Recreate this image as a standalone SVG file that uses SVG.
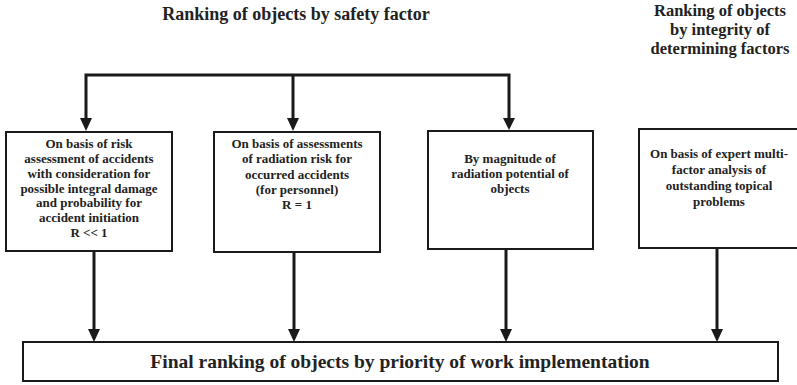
<svg xmlns="http://www.w3.org/2000/svg" width="797" height="385" viewBox="0 0 797 385">
  <style>
    .box { fill: #fff; stroke: #1a1a1a; stroke-width: 2; }
    .t { font-family: 'Liberation Serif', 'Times New Roman', serif; font-weight: bold; fill: #222; text-anchor: middle; }
    .s { font-size: 13px; }
    .h { font-size: 18px; }
    .h2 { font-size: 16.5px; }
    .f { font-size: 19.5px; }
    .ln { stroke: #1a1a1a; stroke-width: 3; fill: none; }
    .ah { fill: #1a1a1a; }
  </style>

  <rect width="797" height="385" fill="#fff"/>

  <!-- headings -->
  <g id="heading-safety">
    <text class="t h" x="296" y="20">Ranking of objects by safety factor</text>
  </g>
  <g id="heading-integrity">
    <text class="t h2" x="720" y="16">Ranking of objects</text>
    <text class="t h2" x="720" y="35">by integrity of</text>
    <text class="t h2" x="720" y="54">determining factors</text>
  </g>

  <!-- connectors -->
  <g id="connectors">
    <path class="ln" d="M86,120 V75 H509 V120"/>
    <path class="ln" d="M293,75 V120"/>
    <!-- arrowheads into the criterion boxes -->
    <path class="ah" d="M80,118 H92 L86,131 Z"/>
    <path class="ah" d="M287,118 H299 L293,131 Z"/>
    <path class="ah" d="M503,118 H515 L509,130 Z"/>
    <!-- links down to the final box -->
    <path class="ln" d="M94,251 V332"/>
    <path class="ln" d="M294,252 V332"/>
    <path class="ln" d="M506,249 V332"/>
    <path class="ln" d="M717,248 V332"/>
    <path class="ah" d="M88,329 H100 L94,342 Z"/>
    <path class="ah" d="M288,329 H300 L294,342 Z"/>
    <path class="ah" d="M500,329 H512 L506,342 Z"/>
    <path class="ah" d="M711,329 H723 L717,342 Z"/>
  </g>

  <!-- criterion boxes -->
  <g id="node-risk">
    <rect class="box" x="6" y="132" width="166" height="119"/>
    <text class="t s" x="89" y="148">On basis of risk</text>
    <text class="t s" x="89" y="163">assessment of accidents</text>
    <text class="t s" x="89" y="178">with consideration for</text>
    <text class="t s" x="89" y="193">possible integral damage</text>
    <text class="t s" x="89" y="207">and probability for</text>
    <text class="t s" x="89" y="222">accident initiation</text>
    <text class="t s" x="89" y="237">R &lt;&lt; 1</text>
  </g>

  <g id="node-radiation-risk">
    <rect class="box" x="214" y="132" width="166" height="120"/>
    <text class="t s" x="297" y="148">On basis of assessments</text>
    <text class="t s" x="297" y="163">of radiation risk for</text>
    <text class="t s" x="297" y="179">occurred accidents</text>
    <text class="t s" x="297" y="194">(for personnel)</text>
    <text class="t s" x="297" y="209">R = 1</text>
  </g>

  <g id="node-potential">
    <rect class="box" x="428" y="131" width="165" height="118"/>
    <text class="t s" x="510" y="163">By magnitude of</text>
    <text class="t s" x="510" y="178">radiation potential of</text>
    <text class="t s" x="510" y="193">objects</text>
  </g>

  <g id="node-expert">
    <rect class="box" x="639" y="129" width="165" height="119"/>
    <text class="t s" x="719" y="158">On basis of expert multi-</text>
    <text class="t s" x="719" y="174">factor analysis of</text>
    <text class="t s" x="719" y="190">outstanding topical</text>
    <text class="t s" x="719" y="206">problems</text>
  </g>

  <!-- final box -->
  <g id="node-final">
    <rect class="box" x="23" y="342" width="755" height="39"/>
    <text class="t f" x="400" y="368">Final ranking of objects by priority of work implementation</text>
  </g>
</svg>
